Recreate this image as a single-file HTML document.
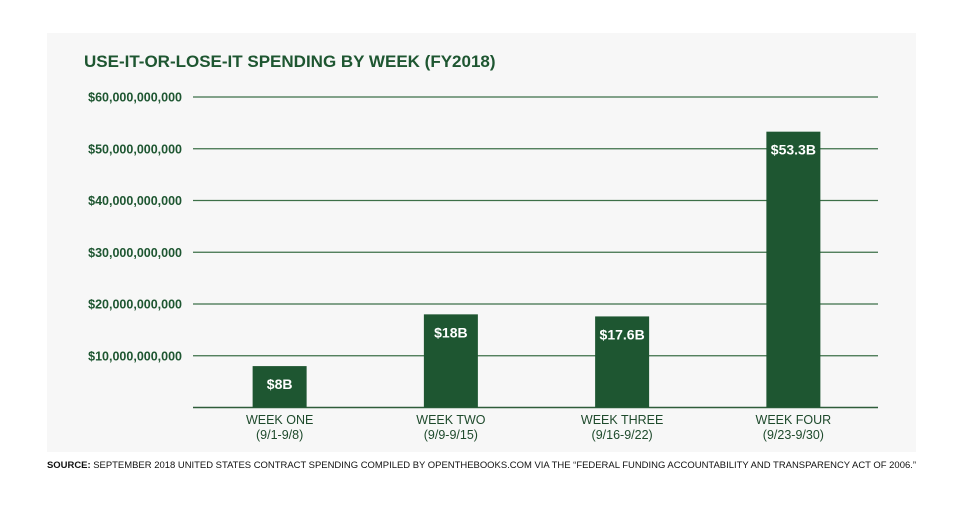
<!DOCTYPE html>
<html><head><meta charset="utf-8"><style>
body{margin:0;background:#fff;width:969px;height:501px;overflow:hidden;font-family:"Liberation Sans",sans-serif}
svg text{font-family:"Liberation Sans",sans-serif}
</style></head><body>
<svg width="969" height="501">
<rect x="47" y="33" width="869" height="419" fill="#f7f7f7"/>
<text x="84" y="67" font-size="17" font-weight="bold" fill="#1e5631">USE-IT-OR-LOSE-IT SPENDING BY WEEK (FY2018)</text>
<g id="grid"></g><g id="bars"></g>
<text x="47" y="468" font-size="9.6" fill="#111" textLength="869" lengthAdjust="spacingAndGlyphs"><tspan font-weight="bold">SOURCE:</tspan> SEPTEMBER 2018 UNITED STATES CONTRACT SPENDING COMPILED BY OPENTHEBOOKS.COM VIA THE “FEDERAL FUNDING ACCOUNTABILITY AND TRANSPARENCY ACT OF 2006.”</text>
</svg>
<script>
const categories=["WEEK ONE","WEEK TWO","WEEK THREE","WEEK FOUR"];
const dateRanges=["(9/1-9/8)","(9/9-9/15)","(9/16-9/22)","(9/23-9/30)"];
const values=[8,18,17.6,53.3];
const valueLabels=["$8B","$18B","$17.6B","$53.3B"];
const ticks=[10,20,30,40,50,60];
const tickLabels=["$10,000,000,000","$20,000,000,000","$30,000,000,000","$40,000,000,000","$50,000,000,000","$60,000,000,000"];
const NS="http://www.w3.org/2000/svg";
const x0=193,x1=878,y0=407.5,yTop=97,maxV=60;
const y=v=>y0-(v/maxV)*(y0-yTop);
const band=(x1-x0)/categories.length;
const xc=i=>x0+band*(i+0.5)+1;
function mk(t,a,p){const e=document.createElementNS(NS,t);for(const k in a)e.setAttribute(k,a[k]);p.appendChild(e);return e;}
const g=document.getElementById('grid'),b=document.getElementById('bars');
ticks.forEach((t,i)=>{
 const l=mk('line',{x1:x0,x2:x1,y1:y(t),y2:y(t),stroke:'#3d7048','stroke-width':1.3},g);
 
 
 const tx=mk('text',{x:182,y:y(t)+4.5,'text-anchor':'end','font-size':12.5,'font-weight':'bold',fill:'#1e5631'},g);
 tx.textContent=tickLabels[i];
 
 
});
values.forEach((v,i)=>{
 const w=54,cx=xc(i);
 const r=mk('rect',{x:cx-w/2,y:y(v),width:w,height:y0-y(v),fill:'#1e5631'},b);
 
 
 const t=mk('text',{x:cx,y:y(v)+23,'text-anchor':'middle','font-size':14,'font-weight':'bold',fill:'#fff'},b);
 t.textContent=valueLabels[i];
 
 
 const c=mk('text',{x:cx,y:424,'text-anchor':'middle','font-size':12.5,fill:'#1e4a2c'},b);
 c.textContent=categories[i];
 
 
 const d=mk('text',{x:cx,y:439,'text-anchor':'middle','font-size':12.5,fill:'#1e4a2c'},b);
 d.textContent=dateRanges[i];
 
 
});
const base=mk('line',{x1:x0,x2:x1,y1:y0,y2:y0,stroke:'#2f5d3a','stroke-width':1.5},g);


</script>
</body></html>
